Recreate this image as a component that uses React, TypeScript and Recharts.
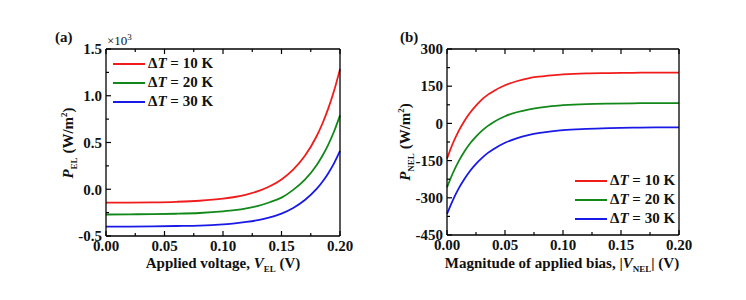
import { LineChart, Line, XAxis, YAxis, Legend } from "recharts";

// panel (a): P_EL (x10^3 W/m^2) vs applied voltage
const voltageA = [0, 0.02, 0.04, 0.06, 0.08, 0.1, 0.11, 0.12, 0.13, 0.14, 0.15, 0.16, 0.17, 0.18, 0.185, 0.19, 0.195, 0.2];
const dT10A = [-0.144, -0.143, -0.14, -0.134, -0.123, -0.101, -0.083, -0.057, -0.021, 0.032, 0.105, 0.21, 0.358, 0.567, 0.703, 0.865, 1.056, 1.285];
const dT20A = [-0.27, -0.268, -0.266, -0.262, -0.254, -0.237, -0.224, -0.205, -0.178, -0.139, -0.09, -0.007, 0.103, 0.258, 0.359, 0.478, 0.62, 0.79];
const dT30A = [-0.4, -0.399, -0.397, -0.393, -0.388, -0.375, -0.365, -0.35, -0.33, -0.3, -0.26, -0.2, -0.115, 0.003, 0.08, 0.172, 0.28, 0.41];

// panel (b): P_NEL (W/m^2) vs |V_NEL|
const biasB = [0, 0.005, 0.01, 0.015, 0.02, 0.025, 0.03, 0.035, 0.04, 0.05, 0.06, 0.07, 0.08, 0.09, 0.1, 0.12, 0.14, 0.16, 0.18, 0.2];
const dT10B = [-142, -81, -31, 10, 44, 72, 96, 115, 130, 154, 170, 182, 189, 194, 198, 202, 203, 204, 205, 205];
const dT20B = [-258, -201, -153, -113, -80, -53, -30, -11, 5, 29, 45, 56, 64, 70, 73.5, 78, 80, 81, 82, 82];
const dT30B = [-365, -310, -263, -224, -191, -163, -140, -120, -104, -78, -60, -47, -38, -32, -27, -22, -19, -17, -16, -16];

const deltaT = ["10", "20", "30"];
const COLORS = ["#f01c1c", "#12881a", "#1a1ae6"];

const xTicks = [0, 0.025, 0.05, 0.075, 0.1, 0.125, 0.15, 0.175, 0.2];
const yTicksA = [-0.5, -0.25, 0, 0.25, 0.5, 0.75, 1, 1.25, 1.5];
const yTicksB = [-450, -375, -300, -225, -150, -75, 0, 75, 150, 225, 300];

const FONT = "'Liberation Serif', 'Times New Roman', serif";

const rowsA = voltageA.map((v, i) => ({ v, t10: dT10A[i], t20: dT20A[i], t30: dT30A[i] }));
const rowsB = biasB.map((v, i) => ({ v, t10: dT10B[i], t20: dT20B[i], t30: dT30B[i] }));

function makeTick(side: string, step: number, fmt?: (v: number) => string) {
  return (props: any) => {
    const { x, y, payload } = props;
    const v = payload.value;
    const major = Math.abs(v / step - Math.round(v / step)) < 1e-6;
    const len = major ? 5 : 3;
    let line;
    if (side === "bottom") line = <line x1={x} y1={y} x2={x} y2={y - len} stroke="#000" strokeWidth={1.2} />;
    else if (side === "top") line = <line x1={x} y1={y} x2={x} y2={y + len} stroke="#000" strokeWidth={1.2} />;
    else if (side === "left") line = <line x1={x} y1={y} x2={x + len} y2={y} stroke="#000" strokeWidth={1.2} />;
    else line = <line x1={x} y1={y} x2={x - len} y2={y} stroke="#000" strokeWidth={1.2} />;
    let label = null;
    if (major && fmt) {
      if (side === "bottom")
        label = (
          <text x={x} y={y + 15} textAnchor="middle" fontFamily={FONT} fontWeight="bold" fontSize={15} fill="#111">
            {fmt(v)}
          </text>
        );
      else
        label = (
          <text x={x - 4} y={y} dy="0.35em" textAnchor="end" fontFamily={FONT} fontWeight="bold" fontSize={15} fill="#111">
            {fmt(v)}
          </text>
        );
    }
    return (
      <g>
        {line}
        {label}
      </g>
    );
  };
}

function LegendBox(props: any) {
  const { payload } = props;
  return (
    <div style={{ fontFamily: FONT, fontWeight: "bold", fontSize: 15, color: "#111" }}>
      {(payload || []).map((p: any, i: number) => (
        <div key={i} style={{ display: "flex", alignItems: "center", height: 19.2 }}>
          <svg width={32} height={4} style={{ marginRight: 3 }}>
            <line x1={0} y1={2} x2={32} y2={2} stroke={p.color} strokeWidth={2} />
          </svg>
          <span style={{ whiteSpace: "nowrap" }}>
            Δ<i>T</i> = {p.value} K
          </span>
        </div>
      ))}
    </div>
  );
}

function Panel(props: {
  rows: any[];
  yDomain: number[];
  yTicks: number[];
  yStep: number;
  yFmt: (v: number) => string;
  margin: any;
  legendPos: { left: number; top: number };
}) {
  const { rows, yDomain, yTicks, yStep, yFmt, margin, legendPos } = props;
  const axisProps = { stroke: "#000", strokeWidth: 1.3, tickSize: 0, tickMargin: 0, interval: 0 as const };
  return (
    <LineChart width={373} height={300} data={rows} margin={margin}>
      <XAxis dataKey="v" type="number" domain={[0, 0.2]} ticks={xTicks} height={1} tick={makeTick("bottom", 0.05, (v) => v.toFixed(2))} {...axisProps} />
      <XAxis xAxisId="top" orientation="top" dataKey="v" type="number" domain={[0, 0.2]} ticks={xTicks} height={1} tick={makeTick("top", 0.05)} {...axisProps} />
      <YAxis type="number" domain={yDomain} ticks={yTicks} width={1} tick={makeTick("left", yStep, yFmt)} allowDataOverflow {...axisProps} />
      <YAxis yAxisId="right" orientation="right" type="number" domain={yDomain} ticks={yTicks} width={1} tick={makeTick("right", yStep)} {...axisProps} />
      {["t10", "t20", "t30"].map((k, i) => (
        <Line key={k} dataKey={k} name={deltaT[i]} type="monotone" stroke={COLORS[i]} strokeWidth={1.8} dot={false} isAnimationActive={false} />
      ))}
      <Legend layout="vertical" align="center" verticalAlign="middle" content={LegendBox} wrapperStyle={{ left: legendPos.left, top: legendPos.top, width: 120 }} />
    </LineChart>
  );
}

const txt = { position: "absolute" as const, fontFamily: FONT, fontWeight: "bold" as const, fontSize: 15, color: "#111", whiteSpace: "nowrap" as const };

export default function App() {
  return (
    <div style={{ position: "absolute", left: 0, top: 0, width: 746, height: 300, background: "#fff" }}>
      <div style={{ position: "absolute", left: 0, top: 0 }}>
        <Panel
          rows={rowsA}
          yDomain={[-0.5, 1.5]}
          yTicks={yTicksA}
          yStep={0.5}
          yFmt={(v) => v.toFixed(1)}
          margin={{ top: 48, right: 32, bottom: 63, left: 105 }}
          legendPos={{ left: 113, top: 54 }}
        />
      </div>
      <div style={{ position: "absolute", left: 373, top: 0 }}>
        <Panel
          rows={rowsB}
          yDomain={[-450, 300]}
          yTicks={yTicksB}
          yStep={150}
          yFmt={(v) => String(v)}
          margin={{ top: 48, right: 66, bottom: 64, left: 73 }}
          legendPos={{ left: 202, top: 171 }}
        />
      </div>

      <div style={{ ...txt, left: 55, top: 29 }}>(a)</div>
      <div style={{ ...txt, left: 107, top: 32, fontSize: 13, fontWeight: "normal" }}>
        ×10<sup style={{ fontSize: 9 }}>3</sup>
      </div>
      <div style={{ ...txt, left: 223, top: 255, transform: "translateX(-50%)" }}>
        Applied voltage, <i>V</i>
        <sub style={{ fontSize: 9 }}>EL</sub> (V)
      </div>
      <div style={{ ...txt, left: 69, top: 143, transform: "translate(-50%, -50%) rotate(-90deg)" }}>
        <i>P</i>
        <sub style={{ fontSize: 9 }}>EL</sub> (W/m<sup style={{ fontSize: 9 }}>2</sup>)
      </div>

      <div style={{ ...txt, left: 400, top: 29 }}>(b)</div>
      <div style={{ ...txt, left: 562, top: 255, transform: "translateX(-50%)" }}>
        Magnitude of applied bias, |<i>V</i>
        <sub style={{ fontSize: 9 }}>NEL</sub>| (V)
      </div>
      <div style={{ ...txt, left: 406, top: 142, transform: "translate(-50%, -50%) rotate(-90deg)" }}>
        <i>P</i>
        <sub style={{ fontSize: 9 }}>NEL</sub> (W/m<sup style={{ fontSize: 9 }}>2</sup>)
      </div>
    </div>
  );
}
